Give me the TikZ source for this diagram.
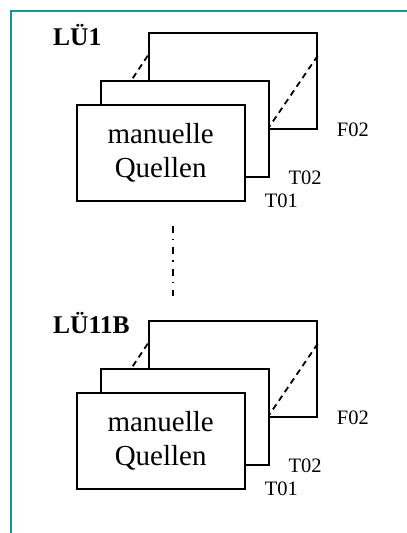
\documentclass[tikz,border=0pt]{standalone}
\usepackage{fontspec}
\setmainfont{Liberation Serif}
\usetikzlibrary{calc}
\definecolor{rahmen}{RGB}{24,150,150}

\begin{document}
\begin{tikzpicture}[x=1pt,y=-1pt,
	blatt/.style={draw,fill=white,line width=2pt,minimum width=168pt,minimum height=96pt,inner sep=0pt},
	kante/.style={line width=1.8pt,dash pattern=on 6pt off 4.5pt},
	strichpunkt/.style={line width=1.8pt,dash pattern=on 7pt off 6pt on 1.5pt off 7pt},
	marke/.style={anchor=base west,inner sep=0pt,font=\fontsize{20.5}{24}\selectfont},
	titel/.style={anchor=base west,inner sep=0pt,font=\fontsize{25.5}{30}\selectfont\bfseries}]
	\useasboundingbox (0,0) rectangle (407,533);
	\draw[rahmen,line width=2pt] (407,11) -- (11,11) -- (11,533);
	\foreach \dy/\lue/\g in {0/LÜ1/a,288/LÜ11B/b}{
		\begin{scope}[shift={(0,\dy)}]
			\node[titel] (titel\g) at (53,45) {\lue};
			\node[blatt] (back\g) at (232.7,80.7) {};
			\draw[kante] ($(back\g.north west)+(0,24)$) -- ($(back\g.north west)+(-16,48)$);
			\draw[kante] ($(back\g.north east)+(0,24)$) -- ($(back\g.south west)+(119.6,0)$);
			\node[blatt] (mid\g) at ($(back\g.center)+(-48,48)$) {};
			\node[blatt,align=center,font=\fontsize{29}{34.5}\selectfont] (front\g) at ($(mid\g.center)+(-24,24)$) {manuelle\\Quellen};
			\node[marke] (f\g) at ($(back\g.south east)+(19,6.3)$) {F02};
			\node[marke] (t2\g) at ($(mid\g.south east)+(18.7,6.3)$) {T02};
			\node[marke] (t1\g) at ($(front\g.south east)+(19,5.3)$) {T01};
		\end{scope}
	}
	\draw[strichpunkt] ($(fronta.south)+(12,24)$) -- ($(backb.north)+(-60,-24)$);
\end{tikzpicture}
\end{document}
